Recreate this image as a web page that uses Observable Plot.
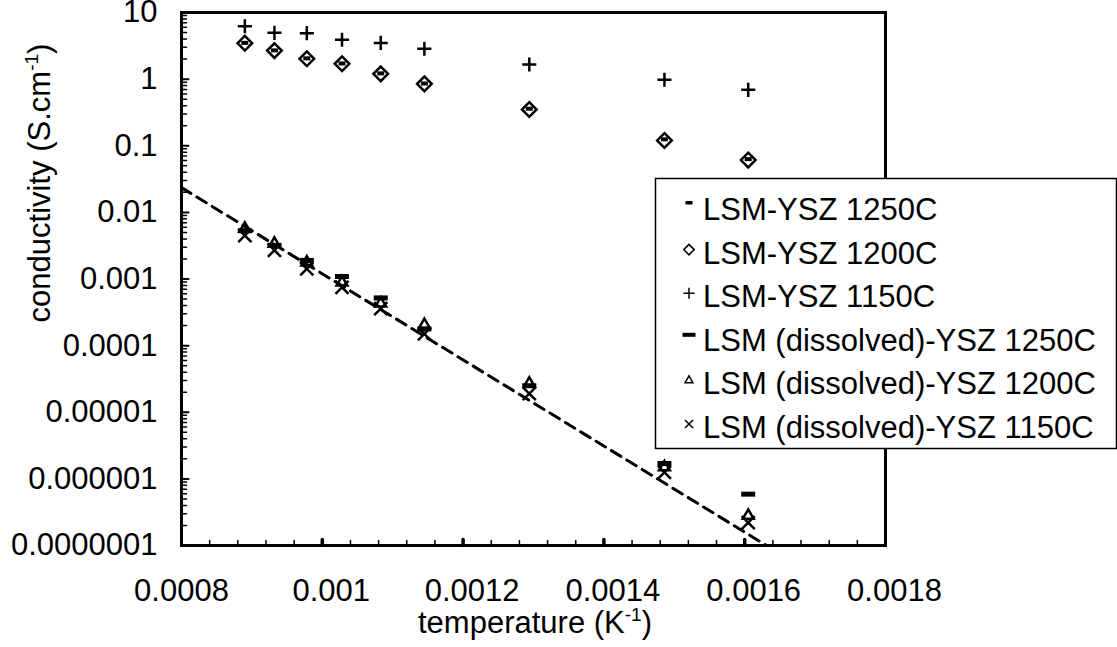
<!DOCTYPE html>
<html><head><meta charset="utf-8">
<script src="https://cdn.jsdelivr.net/npm/d3@7"></script>
<script src="https://cdn.jsdelivr.net/npm/@observablehq/plot@0.6"></script>
<style>
html,body{margin:0;padding:0;background:#fff;}
#chart{width:1117px;height:647px;overflow:hidden;}
</style></head><body><div id="chart"></div>
<script>
// inverse temperature (1/K)
const invT = [0.000890, 0.000932, 0.000978, 0.001028, 0.001083, 0.001145, 0.001294, 0.001486, 0.001605];
// conductivity (S/cm)
const lsmYsz1250 = [3.5, 2.7, 2.05, 1.72, 1.22, 0.86, 0.36, 0.125, 0.063];
const lsmYsz1200 = [3.46, 2.68, 2.02, 1.70, 1.20, 0.85, 0.35, 0.12, 0.061];
const lsmYsz1150 = [6.2, 4.95, 4.9, 3.9, 3.5, 2.85, 1.66, 0.98, 0.69];
const dis1250 = [0.0053, 0.0032, 0.0019, 0.00109, 0.00052, 0.000178, 0.000025, 0.0000017, 0.00000059];
const dis1200 = [0.0057, 0.0034, 0.00178, 0.00089, 0.00043, 0.000205, 0.000027, 0.0000015, 0.00000028];
const dis1150 = [0.0045, 0.0027, 0.00142, 0.00075, 0.00036, 0.00015, 0.000019, 0.00000125, 0.00000022];
// fitted trend line (dashed) end points
const fitX = [0.0008, 0.001631];
const fitY = [0.0235, 0.0000001];

const seriesNames = ["LSM-YSZ 1250C", "LSM-YSZ 1200C", "LSM-YSZ 1150C",
  "LSM (dissolved)-YSZ 1250C", "LSM (dissolved)-YSZ 1200C", "LSM (dissolved)-YSZ 1150C"];

const xTickValues = [0.0008, 0.001, 0.0012, 0.0014, 0.0016, 0.0018];
const xTickLabels = ["0.0008", "0.001", "0.0012", "0.0014", "0.0016", "0.0018"];
const yTickValues = [1e-7, 1e-6, 1e-5, 1e-4, 1e-3, 1e-2, 1e-1, 1, 10];
const yTickLabels = ["0.0000001", "0.000001", "0.00001", "0.0001", "0.001", "0.01", "0.1", "1", "10"];

const xTitle = "temperature (K";
const yTitle = "conductivity (S.cm";

// build tables
const pts = (ys) => invT.map((x, i) => ({x, y: ys[i]}));
const fitLine = fitX.map((x, i) => ({x, y: fitY[i]}));
const xLab = new Map(xTickValues.map((v, i) => [v, xTickLabels[i]]));
const yLab = new Map(yTickValues.map((v, i) => [v, yTickLabels[i]]));

// minor ticks
const yMinor = [];
for (let k = 0; k < yTickValues.length - 1; k++) for (let m = 2; m <= 9; m++) yMinor.push(yTickValues[k] * m);
const xMinor = [];
for (let k = 0; k < xTickValues.length - 1; k++) for (let m = 1; m <= 4; m++) xMinor.push(xTickValues[k] + (xTickValues[k + 1] - xTickValues[k]) * m / 5);
const xMajorInner = xTickValues.slice(1, -1);

const tickShape = {draw(ctx, l) { ctx.moveTo(0, 0); ctx.lineTo(0, -l); }};
const dashSmall = {draw(ctx) { ctx.rect(-3.5, -2, 7, 4); }};
const dashBig = {draw(ctx) { ctx.rect(-7, -2.5, 14, 5); }};

const FONT = "'Liberation Sans', Arial, Helvetica, sans-serif";
const FS = 31;

const chart = Plot.plot({
  width: 1117, height: 647,
  marginLeft: 181, marginRight: 232, marginTop: 12, marginBottom: 102,
  x: {type: "linear", domain: [0.0008, 0.0018]},
  y: {type: "log", domain: [1e-7, 10]},
  style: {fontFamily: FONT, background: "#fff", color: "#000", overflow: "visible"},
  marks: [
    Plot.axisY({ticks: yTickValues, tickFormat: d => yLab.get(d), tickSize: 0, tickPadding: 24, fontSize: FS, label: null}),
    Plot.axisX({ticks: xTickValues.slice(0, 1), tickFormat: d => xLab.get(d), tickSize: 0, tickPadding: 33, fontSize: FS, label: null}),
    Plot.axisX({ticks: xTickValues.slice(1), tickFormat: d => xLab.get(d), tickSize: 0, tickPadding: 33, dx: 9, fontSize: FS, label: null}),
    Plot.vector(yMinor, {y: d => d, frameAnchor: "left", length: 5, rotate: 90, anchor: "start", shape: tickShape, stroke: "#000", strokeWidth: 1.5}),
    Plot.vector(yTickValues, {y: d => d, frameAnchor: "left", length: 7, rotate: 90, anchor: "start", shape: tickShape, stroke: "#000", strokeWidth: 2}),
    Plot.vector(xMinor, {x: d => d, frameAnchor: "bottom", length: 5, rotate: 0, anchor: "start", shape: tickShape, stroke: "#000", strokeWidth: 1.5}),
    Plot.vector(xMajorInner, {x: d => d, frameAnchor: "bottom", length: 6, rotate: 0, anchor: "start", shape: tickShape, stroke: "#000", strokeWidth: 3.5}),
    Plot.line(fitLine, {x: "x", y: "y", stroke: "#000", strokeWidth: 3, strokeDasharray: "11,7"}),
    Plot.dot(pts(lsmYsz1150), {x: "x", y: "y", symbol: "plus", r: 4.6, stroke: "#000", strokeWidth: 2.5}),
    Plot.dot(pts(lsmYsz1200), {x: "x", y: "y", symbol: "diamond2", r: 6.6, stroke: "#000", fill: "none", strokeWidth: 2.5}),
    Plot.dot(pts(lsmYsz1250), {x: "x", y: "y", symbol: dashSmall, fill: "#000", stroke: "none"}),
    Plot.dot(pts(dis1150), {x: "x", y: "y", symbol: "times", r: 6, stroke: "#000", strokeWidth: 2.5}),
    Plot.dot(pts(dis1200), {x: "x", y: "y", symbol: "triangle2", r: 5.2, stroke: "#000", fill: "none", strokeWidth: 2.5}),
    Plot.dot(pts(dis1250), {x: "x", y: "y", symbol: dashBig, fill: "#000", stroke: "none"}),
    Plot.frame({stroke: "#000", strokeWidth: 3})
  ]
});
document.getElementById("chart").appendChild(chart);

const svg = d3.select(chart);

// axis titles
const xt = svg.append("text").attr("x", 535).attr("y", 633).attr("text-anchor", "middle")
  .attr("font-family", FONT).attr("font-size", FS).attr("fill", "#000");
xt.append("tspan").text(xTitle);
xt.append("tspan").attr("font-size", 19).attr("dy", -12).text("-1");
xt.append("tspan").attr("dy", 12).text(")");

const yt = svg.append("text").attr("transform", "translate(50,183) rotate(-90)").attr("text-anchor", "middle")
  .attr("font-family", FONT).attr("font-size", FS).attr("fill", "#000");
yt.append("tspan").text(yTitle);
yt.append("tspan").attr("font-size", 19).attr("dy", -12).text("-1");
yt.append("tspan").attr("dy", 12).text(")");

// legend
const lg = svg.append("g");
lg.append("rect").attr("x", 655.5).attr("y", 178.5).attr("width", 461).attr("height", 270)
  .attr("fill", "#fff").attr("stroke", "#000").attr("stroke-width", 1.5);
const legendMarks = [
  {type: "dashS"}, {type: d3.symbolDiamond2, size: 70}, {type: d3.symbolPlus, size: 42},
  {type: "dashB"}, {type: d3.symbolTriangle2, size: 44}, {type: d3.symbolTimes, size: 44}
];
seriesNames.forEach((name, i) => {
  const base = 220 + i * 43.6;
  const mx = 689, my = base - 14;
  const m = legendMarks[i];
  if (m.type === "dashS") {
    lg.append("rect").attr("x", mx - 3.5).attr("y", base - 19).attr("width", 7).attr("height", 3.5).attr("fill", "#000");
  } else if (m.type === "dashB") {
    lg.append("rect").attr("x", mx - 6.5).attr("y", base - 18).attr("width", 13).attr("height", 4).attr("fill", "#000");
  } else {
    lg.append("path").attr("d", d3.symbol(m.type, m.size)()).attr("transform", `translate(${mx},${my})`)
      .attr("fill", "none").attr("stroke", "#000").attr("stroke-width", 1.5);
  }
  lg.append("text").attr("x", 703).attr("y", base).attr("text-anchor", "start").attr("font-family", FONT).attr("font-size", FS)
    .attr("fill", "#000").text(name);
});
</script>
</body></html>
